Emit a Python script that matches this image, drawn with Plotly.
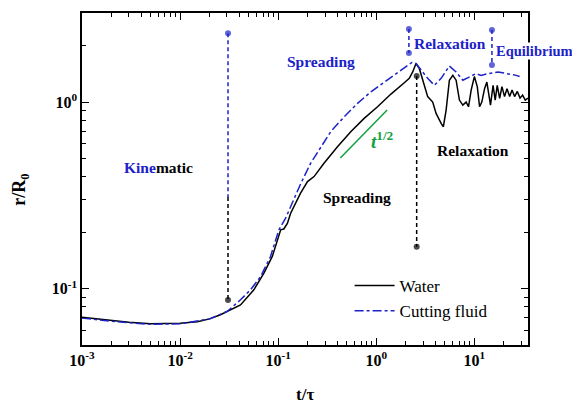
import math
import plotly.graph_objects as go

# ---- data ----
water_t = [0.001, 0.002, 0.003, 0.005, 0.01, 0.015, 0.02, 0.0258, 0.0413, 0.0565, 0.0715, 0.0871,
           0.098, 0.106, 0.114, 0.124, 0.134, 0.145, 0.169, 0.199, 0.232, 0.293, 0.402, 0.549,
           0.752, 1.03, 1.41, 1.93, 2.17, 2.35, 2.54, 2.75, 3.09, 3.34, 3.76, 4.07, 4.58, 4.83,
           5.15, 5.56, 6.03, 6.51, 7.04, 7.62, 8.24, 8.71, 9.27, 10.0, 10.7, 11.3, 11.9, 12.7,
           13.4, 14.1, 14.6, 15.5, 16.3, 17.1, 18.1, 19.1, 20.3, 21.5, 22.9, 24.2, 25.7, 27.4,
           29.2, 31.0, 33.0, 35.2]
water_r = [0.0703, 0.0677, 0.0662, 0.065, 0.0654, 0.0666, 0.069, 0.0726, 0.082, 0.0988, 0.1213, 0.149,
           0.179, 0.207, 0.209, 0.224, 0.254, 0.275, 0.325, 0.375, 0.399, 0.47, 0.577, 0.694,
           0.818, 0.944, 1.104, 1.27, 1.34, 1.45, 1.61, 1.51, 1.21, 1.07, 1.0, 0.87, 0.769, 0.738,
           0.906, 1.31, 1.39, 1.31, 1.025, 0.964, 1.0, 0.944, 1.16, 1.37, 1.21, 0.944, 1.0, 1.18,
           1.28, 1.11, 0.964, 1.23, 1.025, 1.23, 1.046, 1.21, 1.07, 1.18, 1.07, 1.16, 1.07, 1.14,
           1.05, 1.09, 1.025, 1.05]

fluid_t = [0.001, 0.002, 0.005, 0.01, 0.02, 0.0302, 0.0413, 0.0522, 0.0661, 0.0835, 0.1017, 0.119,
           0.139, 0.169, 0.214, 0.272, 0.343, 0.47, 0.644, 0.881, 1.21, 1.65, 2.09, 2.31, 2.54,
           2.86, 3.34, 3.91, 4.58, 5.56, 6.51, 7.62, 8.91, 10.4, 11.7, 13.7, 17.4, 22.0, 26.7, 28.9]
fluid_r = [0.0697, 0.067, 0.0645, 0.065, 0.069, 0.0756, 0.0873, 0.0988, 0.116, 0.149, 0.207, 0.239,
           0.288, 0.364, 0.47, 0.577, 0.694, 0.834, 0.984, 1.135, 1.28, 1.45, 1.58, 1.63, 1.61,
           1.48, 1.34, 1.23, 1.34, 1.56, 1.45, 1.31, 1.37, 1.42, 1.39, 1.42, 1.45, 1.42, 1.39, 1.37]

# region markers (t position, r range)
kin_t = [0.0308, 0.0308]
kin_blue_r = [2.34, 0.31]
kin_black_r = [0.31, 0.087]
relax_black_t = [2.58, 2.58]
relax_black_r = [1.38, 0.168]
relax_blue_t = [2.15, 2.15]
relax_blue_r = [2.46, 1.83]
equil_t = [15.1, 15.1]
equil_r = [2.43, 1.58]
slope_t = [0.43, 1.29]
slope_r = [0.502, 0.906]

x_tickvals = [0.001, 0.01, 0.1, 1, 10]
x_ticktext = ["10<sup>-3</sup>", "10<sup>-2</sup>", "10<sup>-1</sup>", "10<sup>0</sup>", "10<sup>1</sup>"]
y_tickvals = [0.1, 1]
y_ticktext = ["10<sup>-1</sup>", "10<sup>0</sup>"]
x_minor = [m * 10 ** k for k in range(-3, 2) for m in range(2, 10)]
y_minor = [0.06, 0.07, 0.08, 0.09, 0.2, 0.3, 0.4, 0.5, 0.6, 0.7, 0.8, 0.9, 2, 3]

BLUE = "#1c22c8"
BLACK = "#000000"
GREEN = "#10a040"
FONT = "Liberation Serif, Times New Roman, serif"

fig = go.Figure()
fig.add_trace(go.Scatter(x=water_t, y=water_r, mode="lines", name="Water",
                         line=dict(color=BLACK, width=1.5)))
fig.add_trace(go.Scatter(x=fluid_t, y=fluid_r, mode="lines", name="Cutting fluid",
                         line=dict(color=BLUE, width=1.5, dash="dashdot")))

def seg(x, y, color, markers):
    fig.add_trace(go.Scatter(x=x, y=y, mode="lines+markers", showlegend=False, hoverinfo="skip",
                             line=dict(color=color, width=1.5, dash="4px,3px"),
                             marker=dict(color=color, size=[6 if m else 0 for m in markers],
                                         line=dict(width=0))))

seg(kin_t, kin_blue_r, BLUE, [True, False])
seg(kin_t, kin_black_r, BLACK, [False, True])
seg(relax_black_t, relax_black_r, BLACK, [True, True])
seg(relax_blue_t, relax_blue_r, BLUE, [True, True])
seg(equil_t, equil_r, BLUE, [True, True])
fig.add_trace(go.Scatter(x=slope_t, y=slope_r, mode="lines", showlegend=False, hoverinfo="skip",
                         line=dict(color=GREEN, width=1.5)))

def lab(t, r, text, color, size=15, xpaper=None, bg=None):
    kw = dict(y=math.log10(r), yref="y", text="<b>" + text + "</b>", showarrow=False,
              xanchor="center", yanchor="middle", font=dict(family=FONT, size=size, color=color))
    if bg:
        kw.update(bgcolor=bg, borderpad=0)
    if xpaper is None:
        fig.add_annotation(x=math.log10(t), xref="x", **kw)
    else:
        fig.add_annotation(x=xpaper, xref="paper", **kw)

lab(0.00605, 0.449, "<span style='color:%s'>Kine</span>matic" % BLUE, BLACK, 15.5)
lab(0.272, 1.643, "Spreading", BLUE, 15.5)
lab(5.66, 2.069, "Relaxation", BLUE, 15.5)
lab(None, 1.88, "Equilibrium", BLUE, 14.5, xpaper=1.014, bg="white")
lab(9.73, 0.553, "Relaxation", BLACK, 15.5)
lab(0.634, 0.310, "Spreading", BLACK, 15.5)
lab(1.168, 0.627, "<i>t</i><sup>1/2</sup>", GREEN, 19)

# axis titles
fig.add_annotation(x=0.5, y=-0.148, xref="paper", yref="paper", text="<b>t/τ</b>", showarrow=False,
                   xanchor="center", yanchor="middle", font=dict(family=FONT, size=17, color="black"))
fig.add_annotation(x=-0.137, y=0.467, xref="paper", yref="paper", text="<b>r/R<sub>0</sub></b>",
                   showarrow=False, textangle=-90, xanchor="center", yanchor="middle",
                   font=dict(family=FONT, size=18, color="black"))

axis_common = dict(type="log", showgrid=False, zeroline=False, showline=True, linecolor="black",
                   linewidth=1.5, mirror="allticks", ticks="inside", ticklen=7, tickwidth=1.3,
                   tickcolor="black", tickfont=dict(family=FONT, size=16, color="black"),
                   automargin=False)

fig.update_xaxes(**axis_common, range=[-3, math.log10(35.2)], tickmode="array",
                 tickvals=x_tickvals, ticktext=["<b>%s</b>" % s for s in x_ticktext],
                 minor=dict(tickmode="array", tickvals=x_minor, ticks="inside", ticklen=4,
                            tickwidth=1.2, tickcolor="black"))
fig.update_yaxes(**axis_common, range=[math.log10(0.05), math.log10(3)], tickmode="array",
                 tickvals=y_tickvals, ticktext=["<b>%s</b>" % s for s in y_ticktext],
                 minor=dict(tickmode="array", tickvals=y_minor, ticks="inside", ticklen=4,
                            tickwidth=1.2, tickcolor="black"))

fig.update_layout(width=572, height=395, margin=dict(l=74, r=52, t=5, b=58),
                  paper_bgcolor="white", plot_bgcolor="white", showlegend=True,
                  legend=dict(x=0.6, y=0.232, xanchor="left", yanchor="top", bgcolor="rgba(0,0,0,0)",
                              font=dict(family=FONT, size=17, color="black"), tracegroupgap=0,
                              itemwidth=40))
fig.write_html("out.html")
